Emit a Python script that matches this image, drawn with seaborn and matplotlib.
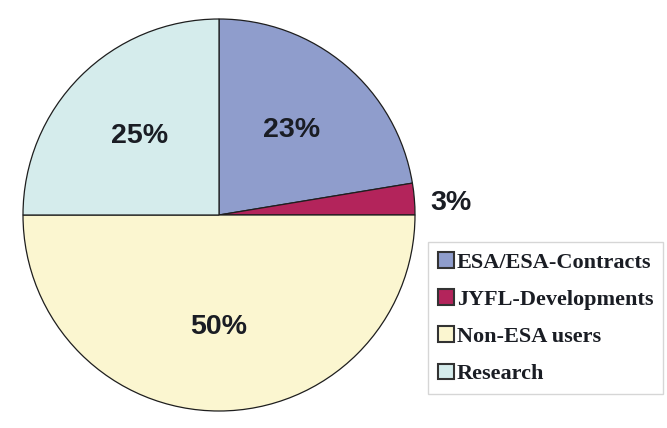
import numpy as np
import matplotlib

matplotlib.use("Agg")
import matplotlib.pyplot as plt
import seaborn as sns
from matplotlib.patches import Patch

# Datos
categorias = ["ESA/ESA-Contracts", "JYFL-Developments", "Non-ESA users", "Research"]
valores = [22.4, 2.6, 50.0, 25.0]
etiquetas_pct = ["23%", "3%", "50%", "25%"]
colores = ["#8f9dcc", "#b3245b", "#fbf6d0", "#d5ecec"]

sns.set_theme(style="white")
plt.rcParams["font.family"] = ["Liberation Sans", "DejaVu Sans"]

fig = plt.figure(figsize=(6.67, 4.28), dpi=100)
# centro del pastel ~ (219, 215) px, radio ~196 px
ax = fig.add_axes([(219 - 196) / 667, (428 - 215 - 196) / 428, 392 / 667, 392 / 428])

paleta = sns.color_palette(colores)
wedges, _ = ax.pie(
    valores,
    colors=paleta,
    startangle=90,
    counterclock=False,
    radius=1.0,
    wedgeprops=dict(edgecolor="#1e1e1e", linewidth=0.9),
)
ax.set_xlim(-1, 1)
ax.set_ylim(-1, 1)
ax.set_aspect("equal")
ax.axis("off")

# Etiquetas de porcentaje: dentro de cada sector, la pequena afuera
for w, txt in zip(wedges, etiquetas_pct):
    ang = np.deg2rad((w.theta1 + w.theta2) / 2)
    pequena = (w.theta2 - w.theta1) < 20
    dist = 1.19 if pequena else 0.57
    ajuste_y = -0.035 if pequena else 0
    ax.text(dist * np.cos(ang), dist * np.sin(ang) + ajuste_y, txt,
            ha="center", va="center", fontsize=20.5, fontweight="bold",
            color="#1a1d24", clip_on=False)

handles = [Patch(facecolor=c, edgecolor="#333333", linewidth=1.5) for c in colores]
leg = fig.legend(
    handles, categorias,
    loc="upper left",
    bbox_to_anchor=(428 / 667, 1 - 242 / 428),
    frameon=True, fancybox=False,
    prop=dict(family="Liberation Serif", weight="bold", size=16),
    handlelength=0.7, handleheight=0.7, handletextpad=0.15,
    labelspacing=0.75, borderpad=0.45, borderaxespad=0,
)
leg.get_frame().set_edgecolor("#cccccc")
leg.get_frame().set_linewidth(1.0)
for t in leg.get_texts():
    t.set_color("#1a1d24")

fig.savefig("out.png", dpi=100, facecolor="white")
plt.close(fig)
